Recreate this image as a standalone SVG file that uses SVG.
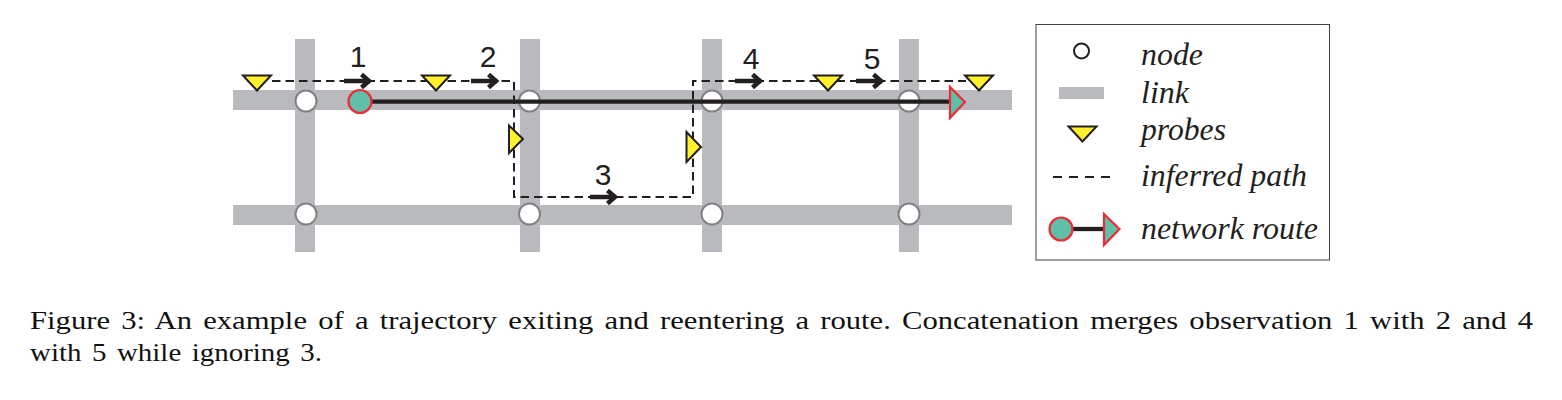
<svg xmlns="http://www.w3.org/2000/svg" width="1562" height="400" viewBox="0 0 1562 400">
<style>
.link{fill:#b9babd}
.nd{fill:#fff;stroke:#808285;stroke-width:2}
.probe{fill:#fff22d;stroke:#231f20;stroke-width:2;stroke-linejoin:miter}
.dash{fill:none;stroke:#231f20;stroke-width:2;stroke-dasharray:8.5 5}
.route{fill:none;stroke:#231f20;stroke-width:4.300}
.rt{fill:#5fbfa8;stroke:#ed2a36;stroke-width:2.200}
.ar{fill:none;stroke:#231f20;stroke-width:4.500}
.num{font-family:"Liberation Sans",Arial,sans-serif;font-size:30px;fill:#231f20;text-anchor:middle}
.leg{font-family:"Liberation Serif","Times New Roman",serif;font-style:italic;font-size:31px;fill:#231f20}
.cap{font-family:"Liberation Serif","Times New Roman",serif;font-size:26px;fill:#111;word-spacing:3px}
</style>
<defs>
<g id="arrow"><path d="M0 0H26" class="ar"/><path d="M17.500 -6.500L25 0L17.500 6.500" class="ar"/></g>
<polygon id="pd" class="probe" points="-14,0 14,0 0,15"/>
</defs>
<rect width="1562" height="400" fill="#fff"/>
<g id="links">
<rect class="link" x="233" y="90" width="779" height="20"/>
<rect class="link" x="233" y="205" width="779" height="20"/>
<rect class="link" x="295" y="39" width="20" height="213"/>
<rect class="link" x="520" y="39" width="20" height="213"/>
<rect class="link" x="702" y="39" width="20" height="213"/>
<rect class="link" x="899" y="39" width="20" height="213"/>
</g>
<g id="nodes">
<circle id="n1" class="nd" cx="306" cy="101" r="10.500"/>
<circle id="n2" class="nd" cx="529.500" cy="101" r="10.500"/>
<circle id="n3" class="nd" cx="712" cy="101" r="10.500"/>
<circle id="n4" class="nd" cx="909" cy="101" r="10.500"/>
<circle id="n5" class="nd" cx="306" cy="214" r="10.500"/>
<circle id="n6" class="nd" cx="529.500" cy="214" r="10.500"/>
<circle id="n7" class="nd" cx="712" cy="214" r="10.500"/>
<circle id="n8" class="nd" cx="909" cy="214" r="10.500"/>
</g>
<g id="connectors">
<path class="route" d="M371 101.700H950"/>
<path class="dash" d="M272 81H514V197H693V81H966"/>
<use href="#arrow" x="344" y="81"/>
<use href="#arrow" x="471" y="81"/>
<use href="#arrow" x="590" y="197"/>
<use href="#arrow" x="735" y="81"/>
<use href="#arrow" x="856" y="81"/>
</g>
<g id="route-ends">
<circle class="rt" cx="360" cy="101.500" r="11.500"/>
<polygon class="rt" points="950,87 965,102 950,118"/>
</g>
<g id="probes">
<use href="#pd" x="257" y="75.500"/>
<use href="#pd" x="436" y="75.500"/>
<use href="#pd" x="828" y="75.500"/>
<use href="#pd" x="979" y="75.500"/>
<polygon class="probe" points="509,125.500 523,139 509,153"/>
<polygon class="probe" points="686.500,132 701,147 686.500,162"/>
</g>
<g id="labels">
<text class="num" x="358" y="66.500">1</text>
<text class="num" x="488" y="67">2</text>
<text class="num" x="603" y="185">3</text>
<text class="num" x="751" y="69">4</text>
<text class="num" x="872" y="69">5</text>
</g>
<g id="legend">
<rect x="1036" y="24.500" width="293.500" height="235.500" fill="#fff" stroke="#404041" stroke-width="1"/>
<circle cx="1081.500" cy="51" r="7.500" fill="#fff" stroke="#231f20" stroke-width="2"/>
<rect class="link" x="1059" y="87" width="45" height="12"/>
<use href="#pd" x="1082.500" y="126.500"/>
<path d="M1053 177H1112" fill="none" stroke="#231f20" stroke-width="2" stroke-dasharray="9 7"/>
<path class="route" d="M1072 229H1104"/>
<circle class="rt" cx="1061" cy="229" r="11.500"/>
<polygon class="rt" points="1104,214 1119.500,229 1104,245"/>
<text class="leg" x="1141" y="65" textLength="62" lengthAdjust="spacingAndGlyphs">node</text>
<text class="leg" x="1141" y="102.500" textLength="48" lengthAdjust="spacingAndGlyphs">link</text>
<text class="leg" x="1141" y="140" textLength="85" lengthAdjust="spacingAndGlyphs">probes</text>
<text class="leg" x="1141" y="186" textLength="166" lengthAdjust="spacingAndGlyphs">inferred path</text>
<text class="leg" x="1141" y="238.500" textLength="177" lengthAdjust="spacingAndGlyphs">network route</text>
</g>
<g id="caption">
<text class="cap" x="30" y="329" textLength="1503" lengthAdjust="spacingAndGlyphs">Figure 3: An example of a trajectory exiting and reentering a route. Concatenation merges observation 1 with 2 and 4</text>
<text class="cap" x="30" y="361" textLength="292" lengthAdjust="spacingAndGlyphs">with 5 while ignoring 3.</text>
</g>
</svg>
